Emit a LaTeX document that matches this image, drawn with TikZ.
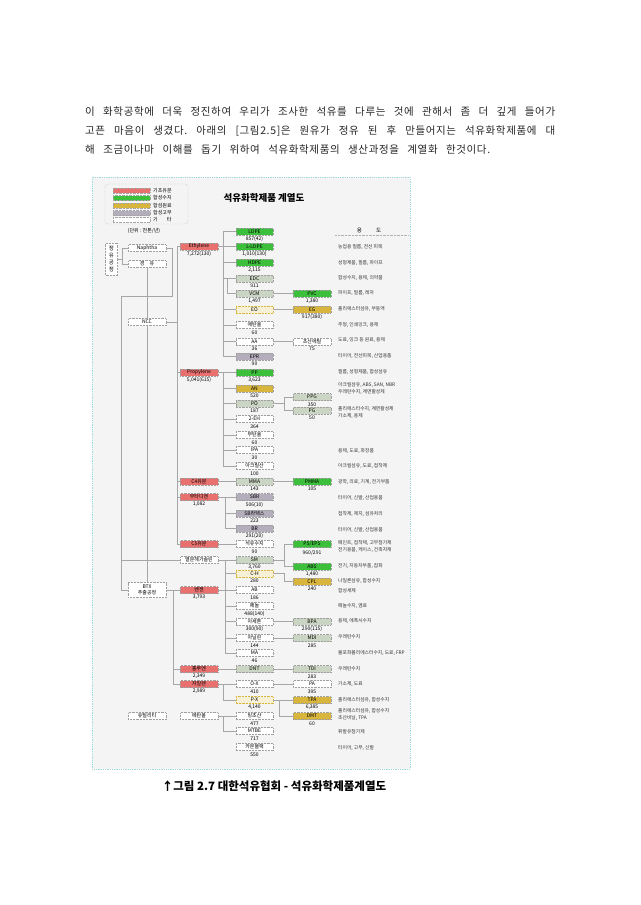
\documentclass[tikz,border=0pt]{standalone}
\usepackage{fontspec}
\setmainfont{Noto Sans CJK KR}
\newfontfamily\bodyfont[LetterSpace=6]{Noto Sans CJK KR}
\usetikzlibrary{calc}
\definecolor{cred}{HTML}{E8706E}
\definecolor{cgreen}{HTML}{3CC03C}
\definecolor{cyellow}{HTML}{D8B53C}
\definecolor{csage}{HTML}{CBD5C3}
\definecolor{crub}{HTML}{B4ADBB}
\definecolor{cly}{HTML}{F6F0D6}
\definecolor{cframe}{HTML}{9ED9DF}
\definecolor{cbg}{HTML}{F4F4F4}
\tikzset{
 bx/.style={draw=gray!75, densely dotted, line width=0.45pt, minimum width=37.5pt, minimum height=7pt, inner sep=0pt, font=\fontsize{5}{5}\selectfont},
 rd/.style={bx, fill=cred},
 gr/.style={bx, fill=cgreen},
 yl/.style={bx, fill=cyellow},
 sg/.style={bx, fill=csage},
 rbr/.style={bx, fill=crub},
 wt/.style={bx, fill=white},
 wy/.style={bx, fill=cly, draw=cyellow},
 val/.style={font=\fontsize{5}{5}\selectfont, inner sep=0pt},
 usetxt/.style={anchor=west, font=\fontsize{4.8}{5}\selectfont, inner sep=0pt, text=black!80},
 ln/.style={draw=gray!70, line width=0.45pt},
 body/.style={anchor=base west, inner sep=0pt, font=\bodyfont\fontsize{10.5}{12}\selectfont\frenchspacing, text=black!85},
 sw/.style={minimum width=37pt, minimum height=5pt, inner sep=0pt, draw=gray!70, densely dotted, line width=0.4pt},
 lg/.style={anchor=west, inner sep=0pt, font=\fontsize{5}{5}\selectfont},
}
\newcommand\bxv[6]{\node[#2] (#1) at (#3,#4) {#5}; \node[val] (#1v) at (#3,#4+7.5) {#6};}
\newcommand\bxn[5]{\node[#2] (#1) at (#3,#4) {#5};}
\begin{document}
\begin{tikzpicture}[x=1pt,y=-1pt]
\useasboundingbox (0,0) rectangle (640,905);
\fill[white] (0,0) rectangle (640,905);

% body text
\node[body] (t1) at (85,115) {\makebox[470pt][s]{이 화학공학에 더욱 정진하여 우리가 조사한 석유를 다루는 것에 관해서 좀 더 깊게 들어가}};
\node[body] (t2) at (85,134) {\makebox[470pt][s]{고픈 마음이 생겼다. 아래의 [그림2.5]은 원유가 정유 된 후 만들어지는 석유화학제품에 대}};
\node[body] (t3) at (85,153) {\makebox[405pt][s]{해 조금이나마 이해를 돕기 위하여 석유화학제품의 생산과정을 계열화 한것이다.}};

% frame
\draw[cframe, densely dotted, line width=0.8pt, fill=cbg] (92,177) rectangle (410,769);

% legend
\draw[gray!70, densely dotted, rounded corners=3pt, line width=0.4pt] (105,184) rectangle (188,224);
\node[sw, fill=cred] (lg1) at (131.5,190.5) {};
\node[sw, fill=cgreen] (lg2) at (131.5,198) {};
\node[sw, fill=cyellow] (lg3) at (131.5,205.5) {};
\node[sw, fill=crub] (lg4) at (131.5,213) {};
\node[sw, fill=white] (lg5) at (131.5,220) {};
\node[lg] (lt1) at (153,190.5) {기초유분};
\node[lg] (lt2) at (153,198) {합성수지};
\node[lg] (lt3) at (153,205.5) {합섬원료};
\node[lg] (lt4) at (153,213) {합성고무};
\node[lg] (lt5) at (153,220) {기\hspace{9pt}타};
\node[val] (unit) at (144,231) {(단위 : 천톤/년)};

% title
\node[font=\fontsize{9.5}{10}\selectfont\bfseries, inner sep=0pt] (title) at (264,198) {석유화학제품 계열도};

% left column
\node[bx, fill=white, minimum width=12pt, minimum height=32pt, align=center, font=\fontsize{5.5}{7}\selectfont] (wonyu) at (111.5,259) {정\\유\\공\\정};
\bxn{naph}{wt}{147}{248}{Naphtha}
\bxn{gyeong}{wt}{147}{264}{경\hspace{5pt}유}
\bxn{ncc}{wt}{147}{322}{NCC}
\node[bx, fill=white, minimum height=15pt, align=center, font=\fontsize{5}{6.5}\selectfont] (btx) at (147,590) {BTX\\추출공정};
\bxn{util}{wt}{147}{716}{유틸리티}

% red column
\bxv{eth}{rd}{199}{246.5}{Ethylene}{7,272(130)}
\bxv{prop}{rd}{199}{372.5}{Propylene}{5,041(615)}
\bxn{c4}{rd}{199}{481.5}{C4유분}
\bxv{bd}{rd}{199}{497}{부타디엔}{1,082}
\bxn{c5}{rd}{199}{544}{C5유분}
\bxn{yeol}{wt}{199}{560}{열분해가솔린}
\bxv{bz}{rd}{199}{590}{벤젠}{3,793}
\bxv{tol}{rd}{199}{669}{톨루엔}{2,349}
\bxv{xyl}{rd}{199}{684}{자일렌}{2,989}
\bxn{meoh}{wt}{199}{716}{메탄올}

% middle column
\bxv{ldpe}{gr}{254.5}{231.5}{LDPE}{857(42)}
\bxv{lldpe}{gr}{254.5}{246.5}{L-LDPE}{1,010(130)}
\bxv{hdpe}{gr}{254.5}{262.5}{HDPE}{2,115}
\bxv{edc}{sg}{254.5}{278.5}{EDC}{911}
\bxv{vcm}{sg}{254.5}{293.5}{VCM}{1,497}
\bxn{eo}{wy}{254.5}{309.5}{EO}
\bxv{etoh}{wt}{254.5}{325}{에탄올}{60}
\bxv{aa}{wt}{254.5}{341.5}{AA}{36}
\bxv{epr}{rbr}{254.5}{356.5}{EPR}{90}
\bxv{pp}{gr}{254.5}{372.5}{PP}{3,623}
\bxv{an}{yl}{254.5}{388.5}{AN}{520}
\bxv{po}{sg}{254.5}{403.5}{PO}{187}
\bxv{eh}{wt}{254.5}{419}{2-EH}{364}
\bxv{buoh}{wt}{254.5}{435}{부탄올}{60}
\bxv{ipa}{wt}{254.5}{450}{IPA}{30}
\bxv{aac}{wt}{254.5}{466}{아크릴산}{100}
\bxv{mma}{sg}{254.5}{481.5}{MMA}{143}
\bxv{sbr}{rbr}{254.5}{497}{SBR}{506(10)}
\bxv{sbl}{rbr}{254.5}{513.5}{SB라텍스}{223}
\bxv{br}{rbr}{254.5}{528.5}{BR}{291(20)}
\bxv{pres}{wt}{254.5}{544}{석유수지}{90}
\bxv{sm}{sg}{254.5}{560}{SM}{3,760}
\bxv{ch}{wy}{254.5}{573.5}{C-H}{280}
\bxv{ab}{wt}{254.5}{590}{AB}{186}
\bxv{phe}{wt}{254.5}{606}{페놀}{488(140)}
\bxv{acet}{wt}{254.5}{621.5}{아세톤}{300(90)}
\bxv{anil}{wt}{254.5}{638}{아닐린}{144}
\bxv{ma}{wt}{254.5}{653}{MA}{46}
\bxn{dnt}{sg}{254.5}{669}{DNT}
\bxv{ox}{wt}{254.5}{684}{O-X}{410}
\bxv{px}{wy}{254.5}{700}{P-X}{4,140}
\bxv{hac}{wt}{254.5}{716}{빙초산}{477}
\bxv{mtbe}{wt}{254.5}{731}{MTBE}{717}
\bxv{cb}{wt}{254.5}{747}{카본블랙}{550}

% right column
\bxv{pvc}{gr}{312}{293.5}{PVC}{1,380}
\bxv{eg}{yl}{312}{309.5}{EG}{917(380)}
\bxv{etac}{wt}{312}{341.5}{초산에틸}{75}
\bxv{ppg}{sg}{312}{397}{PPG}{350}
\bxv{pg}{sg}{312}{410.5}{PG}{50}
\bxv{pmma}{gr}{312}{481.5}{PMMA}{105}
\node[gr] (ps) at (312,544) {PS/EPS}; \node[val] (psv) at (312,553) {960/291};
\bxv{abs}{gr}{312}{566.5}{ABS}{1,480}
\bxv{cpl}{yl}{312}{581.5}{CPL}{240}
\bxv{bpa}{sg}{312}{621.5}{BPA}{290(115)}
\bxv{mdi}{sg}{312}{638}{MDI}{285}
\bxv{tdi}{sg}{312}{669}{TDI}{283}
\bxv{pa}{wt}{312}{684}{PA}{395}
\bxv{tpa}{yl}{312}{700}{TPA}{6,385}
\bxv{dmt}{yl}{312}{716}{DMT}{60}

% uses column
\node[font=\fontsize{5.5}{6}\selectfont, inner sep=0pt] (uhdr) at (369,230) {용\hspace{14pt}도};
\draw[gray!60, densely dotted, line width=0.4pt] (335,235.5) -- (408,235.5);
\node[usetxt] (u1) at (338,247) {농업용 필름, 전선 피복};
\node[usetxt] (u2) at (338,262.7) {성형제품, 필름, 파이프};
\node[usetxt] (u3) at (338,278) {합성수지, 용제, 의약품};
\node[usetxt] (u4) at (338,293) {파이프, 필름, 레자};
\node[usetxt] (u5) at (338,309) {폴리에스터섬유, 부동액};
\node[usetxt] (u6) at (338,325) {주형, 인쇄잉크, 용제};
\node[usetxt] (u7) at (338,340) {도료, 잉크 등 원료, 용제};
\node[usetxt] (u8) at (338,356) {타이어, 전선피복, 산업용품};
\node[usetxt] (u9) at (338,372) {필름, 성형제품, 합성섬유};
\node[usetxt] (u10) at (338,385) {아크릴섬유, ABS, SAN, NBR};
\node[usetxt] (u11) at (338,392) {우레탄수지, 계면활성제};
\node[usetxt] (u12) at (338,409) {폴리에스터수지, 계면활성제};
\node[usetxt] (u13) at (338,416) {가소제, 용제};
\node[usetxt] (u14) at (338,451) {용제, 도료, 화장품};
\node[usetxt] (u15) at (338,466) {아크릴섬유, 도료, 접착제};
\node[usetxt] (u16) at (338,482) {광학, 의료, 기계, 전기부품};
\node[usetxt] (u17) at (338,498) {타이어, 신발, 산업용품};
\node[usetxt] (u18) at (338,514) {접착제, 제지, 섬유처리};
\node[usetxt] (u19) at (338,530) {타이어, 신발, 산업용품};
\node[usetxt] (u20) at (338,543) {페인트, 접착제, 고무첨가제};
\node[usetxt] (u21) at (338,550) {전기용품, 케이스, 건축자재};
\node[usetxt] (u22) at (338,566) {전기, 자동차부품, 잡화};
\node[usetxt] (u23) at (338,581) {나일론섬유, 합성수지};
\node[usetxt] (u24) at (338,591) {합성세제};
\node[usetxt] (u25) at (338,606) {페놀수지, 염료};
\node[usetxt] (u26) at (338,621) {용제, 에폭시수지};
\node[usetxt] (u27) at (338,637) {우레탄수지};
\node[usetxt] (u28) at (338,653) {불포화폴리에스터수지, 도료, FRP};
\node[usetxt] (u29) at (338,669) {우레탄수지};
\node[usetxt] (u30) at (338,684) {가소제, 도료};
\node[usetxt] (u31) at (338,700) {폴리에스터섬유, 합성수지};
\node[usetxt] (u32) at (338,711) {폴리에스터섬유, 합성수지};
\node[usetxt] (u33) at (338,718) {초산비닐, TPA};
\node[usetxt] (u34) at (338,732) {휘발유첨가제};
\node[usetxt] (u35) at (338,748) {타이어, 고무, 신발};

% caption
\node[font=\fontsize{11.5}{12}\selectfont\bfseries, inner sep=0pt] (cap) at (274,786) {↑그림 2.7 대한석유협회 - 석유화학제품계열도};

% bus coordinates
\coordinate (eb) at (223,0);
\coordinate (bb) at (173,0);
\coordinate (nb) at (177,0);
\coordinate (tl) at (121,296);
\coordinate (nk) at (172,296);
\coordinate (rbus) at (284,0);
\coordinate (db) at (279,0);
\coordinate (bzb) at (225,0);

% connectors: left
\draw[ln] (wonyu.east) -- ++(5,0);
\draw[ln] (naph.west) -- ++(-5.5,0) |- (gyeong.west);
\draw[ln] (naph.east) -| (nk) -- (tl) |- (btx.west);
\draw[ln] (gyeong.south) -- (ncc.north);
\draw[ln] (ncc.south) -- (btx.north);
\draw[ln] (ncc.east) -- (ncc.east -| nb);
\draw[ln] (eth.west) -| (nb |- c5.west) -- (c5.west);
\foreach \n in {prop,c4,bd} \draw[ln] (\n.west) -- (\n.west -| nb);
\draw[ln] (yeol.west) -- (yeol.west -| tl);

% ethylene
\draw[ln] (eth.east) -- (eth.east -| eb);
\draw[ln] (ldpe.west) -| (eb |- epr.west) -- (epr.west);
\foreach \n in {lldpe,hdpe,edc,eo,etoh,aa} \draw[ln] (\n.west) -- (\n.west -| eb);
\draw[ln] (vcm.west) -- ++(-8,0) |- (edc.west);
\draw[ln] (vcm.east) -- (pvc.west);
\draw[ln] (eo.east) -- (eg.west);
\draw[ln] (aa.east) -- (etac.west);

% propylene
\draw[ln] (prop.east) -- (pp.west);
\draw[ln] (prop.east -| eb) |- (aac.west);
\foreach \n in {an,po,eh,buoh,ipa} \draw[ln] (\n.west) -- (\n.west -| eb);
\draw[ln] (po.east) -- (po.east -| rbus);
\draw[ln] (ppg.west) -| (rbus |- pg.west) -- (pg.west);

% C4, butadiene, C5
\draw[ln] (c4.east) -- (mma.west);
\draw[ln] (mma.east) -- (pmma.west);
\draw[ln] (bd.east) -- (sbr.west);
\draw[ln] (sbr.west -| bzb) |- (br.west);
\draw[ln] (sbl.west) -- (sbl.west -| bzb);
\draw[ln] (c5.east) -- (pres.west);

% benzene
\draw[ln] (yeol.east) -- (sm.west);
\draw[ln] (bz.east) -- (ab.west);
\draw[ln] (sm.west -| bzb) |- (ma.west);
\foreach \n in {ch,phe,acet,anil} \draw[ln] (\n.west) -- (\n.west -| bzb);
\draw[ln] (sm.east) -- (sm.east -| rbus);
\draw[ln] (ps.west) -| (rbus |- abs.west) -- (abs.west);
\draw[ln] (ch.east) -| (rbus |- cpl.west) -- (cpl.west);
\draw[ln] (acet.east) -- (bpa.west);
\draw[ln] (anil.east) -- (mdi.west);

% BTX
\draw[ln] (btx.east) -- (bz.west);
\draw[ln] (btx.east -| bb) |- (xyl.west);
\draw[ln] (tol.west) -- (tol.west -| bb);
\draw[ln] (tol.east) -- (dnt.west);
\draw[ln] (dnt.east) -- (tdi.west);
\draw[ln] (xyl.east) -- (ox.west);
\draw[ln] (ox.east) -- (pa.west);
\draw[ln] (ox.west -| eb) |- (px.west);
\draw[ln] (px.east) -- (tpa.west);
\draw[ln] (px.east -| db) |- (dmt.west);

% methanol
\draw[ln] (meoh.east) -- (hac.west);
\draw[ln] (hac.west -| eb) |- (mtbe.west);
\end{tikzpicture}
\end{document}
